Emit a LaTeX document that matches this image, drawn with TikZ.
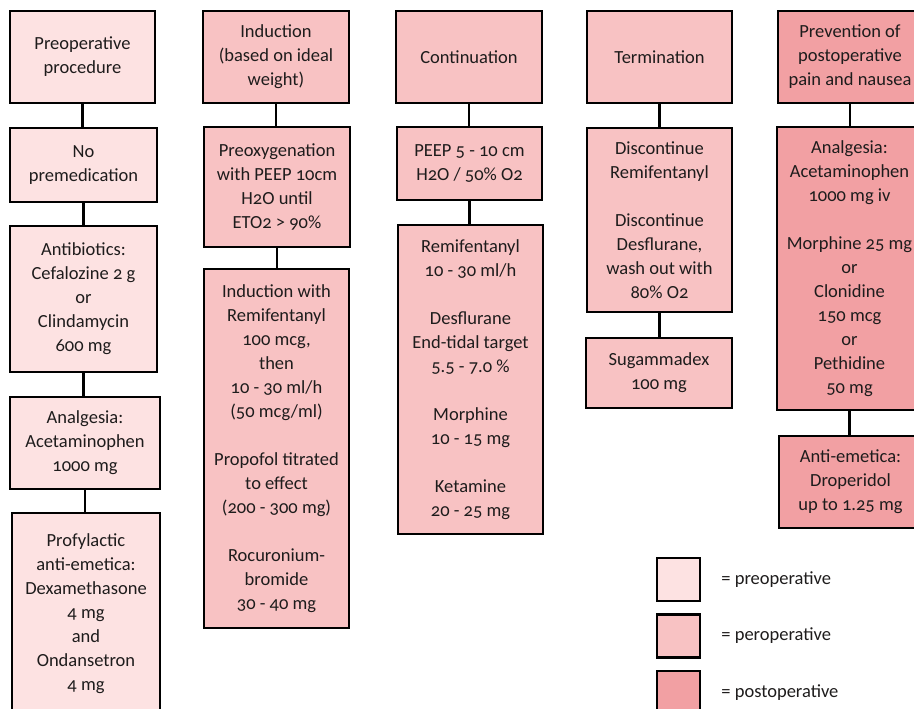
\documentclass[tikz,border=0pt]{standalone}
\usepackage{fontspec}
\setmainfont{Carlito}[Numbers=OldStyle]
\usetikzlibrary{positioning}

\definecolor{preC}{RGB}{253,226,226}
\definecolor{perC}{RGB}{248,194,195}
\definecolor{postC}{RGB}{242,160,163}
\definecolor{txtC}{RGB}{30,28,28}

\tikzset{
  box/.style={draw=black, line width=2.4pt, align=center, text=txtC,
    font=\fontsize{18.5}{24}\selectfont, inner sep=2pt},
  prebox/.style={box, fill=preC},
  perbox/.style={box, fill=perC},
  postbox/.style={box, fill=postC},
  link/.style={line width=2.4pt},
  legtext/.style={text=txtC, font=\fontsize{18.5}{24}\selectfont, inner sep=0pt}
}

\begin{document}
\begin{tikzpicture}[x=1pt, y=-1pt]
  \useasboundingbox (0,0) rectangle (914,709);

  % preoperative column
  \node[prebox, minimum width=145pt, minimum height=92pt] (pre1) at (82.5,57) {Preoperative\\procedure};
  \node[prebox, minimum width=147pt, minimum height=74pt] (pre2) at (83.5,165) {No\\premedication};
  \node[prebox, minimum width=147pt, minimum height=146pt] (pre3) at (83.5,299) {Antibiotics:\\Cefalozine 2 g\\or\\Clindamycin\\600 mg};
  \node[prebox, minimum width=150pt, minimum height=92pt] (pre4) at (85,443) {Analgesia:\\Acetaminophen\\1000 mg};
  \node[prebox, minimum width=148pt, minimum height=202pt] (pre5) at (86,614) {Profylactic\\anti-emetica:\\Dexamethasone\\4 mg\\and\\Ondansetron\\4 mg};

  % induction column
  \node[perbox, minimum width=146pt, minimum height=92pt] (ind1) at (276,57) {Induction\\(based on ideal\\weight)};
  \node[perbox, minimum width=146pt, minimum height=120pt] (ind2) at (277,187) {Preoxygenation\\with PEEP 10cm\\H2O until\\ETO2 > 90\%};
  \node[perbox, minimum width=145pt, minimum height=359pt] (ind3) at (276.5,448.5) {Induction with\\Remifentanyl\\100 mcg,\\then\\10 - 30 ml/h\\(50 mcg/ml)\\[24pt]Propofol titrated\\to effect\\(200 - 300 mg)\\[24pt]Rocuronium-\\bromide\\30 - 40 mg};

  % continuation column
  \node[perbox, minimum width=146pt, minimum height=92pt] (con1) at (469,57) {Continuation};
  \node[perbox, minimum width=145pt, minimum height=73pt] (con2) at (469.5,163.5) {PEEP 5 - 10 cm\\H2O / 50\% O2};
  \node[perbox, minimum width=145pt, minimum height=309pt] (con3) at (470.5,379.5) {Remifentanyl\\10 - 30 ml/h\\[24pt]Desflurane\\End-tidal target\\5.5 - 7.0 \%\\[24pt]Morphine\\10 - 15 mg\\[24pt]Ketamine\\20 - 25 mg};

  % termination column
  \node[perbox, minimum width=145pt, minimum height=92pt] (ter1) at (659.5,57) {Termination};
  \node[perbox, minimum width=145pt, minimum height=184pt] (ter2) at (659.5,220) {Discontinue\\Remifentanyl\\[24pt]Discontinue\\Desflurane,\\wash out with\\80\% O2};
  \node[perbox, minimum width=146pt, minimum height=70pt] (ter3) at (659,373) {Sugammadex\\100 mg};

  % postoperative column
  \node[postbox, minimum width=144pt, minimum height=92pt] (post1) at (850,57) {Prevention of\\postoperative\\pain and nausea};
  \node[postbox, minimum width=145pt, minimum height=283pt] (post2) at (849.5,268.5) {Analgesia:\\Acetaminophen\\1000 mg iv\\[24pt]Morphine 25 mg\\or\\Clonidine\\150 mcg\\or\\Pethidine\\50 mg};
  \node[postbox, minimum width=143pt, minimum height=92pt] (post3) at (850.5,482) {Anti-emetica:\\Droperidol\\up to 1.25 mg};

  % connectors
  \foreach \a/\b in {pre1/pre2, pre2/pre3, pre3/pre4, pre4/pre5,
                     ind1/ind2, ind2/ind3,
                     con1/con2, con2/con3,
                     ter1/ter2, ter2/ter3,
                     post1/post2, post2/post3} {
    \draw[link] (\a.south) -- (\a.south |- \b.north);
  }

  % legend
  \node[prebox, minimum size=43pt] (leg1) at (678.5,579.5) {};
  \node[perbox, minimum size=43pt] (leg2) at (678.5,636) {};
  \node[postbox, minimum size=43pt] (leg3) at (678.5,692.5) {};
  \node[legtext, right=20pt of leg1] (legt1) {= preoperative};
  \node[legtext, right=20pt of leg2] (legt2) {= peroperative};
  \node[legtext, right=20pt of leg3] (legt3) {= postoperative};
\end{tikzpicture}
\end{document}
